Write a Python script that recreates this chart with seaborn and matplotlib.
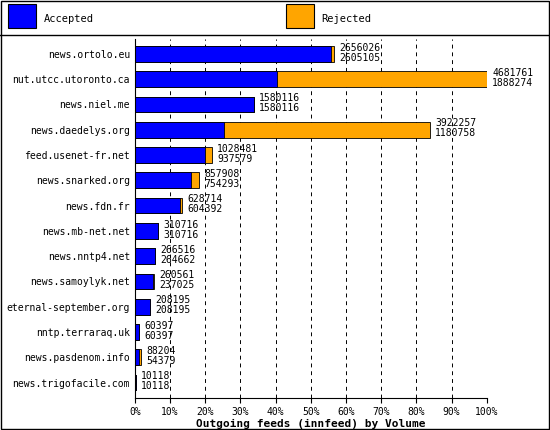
import matplotlib
matplotlib.use("Agg")
import matplotlib.pyplot as plt
import seaborn as sns
import pandas as pd
from matplotlib.patches import Rectangle
from matplotlib.lines import Line2D

servers = ["news.ortolo.eu", "nut.utcc.utoronto.ca", "news.niel.me", "news.daedelys.org",
           "feed.usenet-fr.net", "news.snarked.org", "news.fdn.fr", "news.mb-net.net",
           "news.nntp4.net", "news.samoylyk.net", "eternal-september.org", "nntp.terraraq.uk",
           "news.pasdenom.info", "news.trigofacile.com"]
offered = [2656026, 4681761, 1580116, 3922257, 1028481, 857908, 628714, 310716,
           266516, 260561, 208195, 60397, 88204, 10118]
accepted = [2605105, 1888274, 1580116, 1180758, 937579, 754293, 604392, 310716,
            264662, 237025, 208195, 60397, 54379, 10118]
ticks = ["0%", "10%", "20%", "30%", "40%", "50%", "60%", "70%", "80%", "90%", "100%"]

mx = max(offered)
df = pd.DataFrame({"server": servers,
                   "off": [v / mx * 100 for v in offered],
                   "acc": [v / mx * 100 for v in accepted]})

plt.rcParams['font.family'] = ['DejaVu Sans Mono']
fig = plt.figure(figsize=(5.5, 4.3), dpi=100)
fig.patch.set_facecolor("white")
fig.add_artist(Rectangle((0.002, 0.002), 0.996, 0.996, transform=fig.transFigure,
                         fill=False, edgecolor="black", lw=1))
fig.add_artist(Line2D([0, 1], [0.918, 0.918], transform=fig.transFigure, color="black", lw=1))
ax = fig.add_axes([0.245, 0.075, 0.64, 0.835])
sns.barplot(data=df, y="server", x="off", color="#FFA500", edgecolor="black",
            linewidth=0.6, width=0.62, saturation=1, ax=ax, orient="h")
sns.barplot(data=df, y="server", x="acc", color="#0000FF", edgecolor="black",
            linewidth=0.6, width=0.62, saturation=1, ax=ax, orient="h")
for i, (o, a, v1, v2) in enumerate(zip(df["off"], df["acc"], offered, accepted)):
    ax.text(o + 1.5, i - 0.05, str(v1), fontsize=7, va="bottom")
    ax.text(o + 1.5, i - 0.05, str(v2), fontsize=7, va="top")
ax.set_xlim(0, 100)
ax.set_ylim(13.6, -0.6)
ax.set_xticks(range(0, 101, 10))
ax.set_xticklabels(ticks, fontsize=7)
ax.tick_params(axis="y", labelsize=7, length=0)
ax.set_ylabel("")
ax.set_xlabel("Outgoing feeds (innfeed) by Volume", fontsize=8, fontweight="bold", labelpad=1)
for x in range(10, 101, 10):
    ax.axvline(x, color="black", ls=(0, (4, 4)), lw=0.7, zorder=0)
for s in ["top", "right"]:
    ax.spines[s].set_visible(False)
ax.set_axisbelow(True)

# legend
for (x0, col, lab) in [(0.015, "#0000FF", "Accepted"), (0.52, "#FFA500", "Rejected")]:
    fig.add_artist(Rectangle((x0, 0.935), 0.05, 0.055, transform=fig.transFigure,
                             facecolor=col, edgecolor="black", lw=0.8))
    fig.text(x0 + 0.065, 0.95, lab, fontsize=7.5)
fig.savefig("out.png", dpi=100)
